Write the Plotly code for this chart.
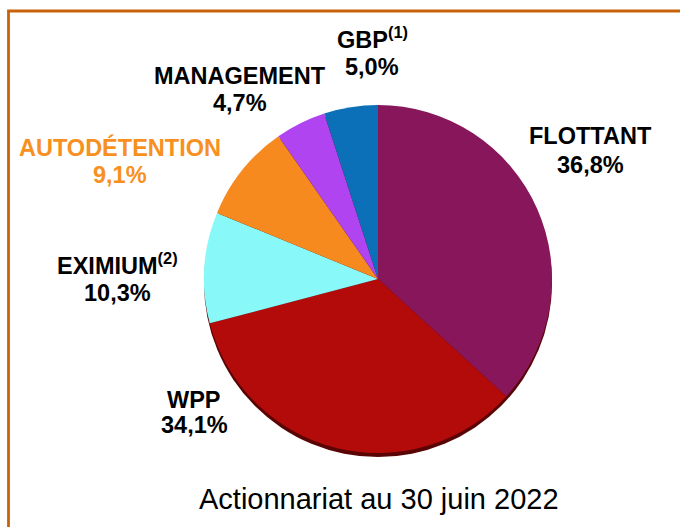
import plotly.graph_objects as go

labels = ["FLOTTANT", "WPP", "EXIMIUM<sup>(2)</sup>", "AUTODÉTENTION", "MANAGEMENT", "GBP<sup>(1)</sup>"]
values = [36.8, 34.1, 10.3, 9.1, 4.7, 5.0]
value_text = ["36,8%", "34,1%", "10,3%", "9,1%", "4,7%", "5,0%"]
colors = ["#88165A", "#B30A0A", "#88F8F8", "#F68A1F", "#B044F0", "#0C70B8"]
label_colors = ["#000000", "#000000", "#000000", "#F7901E", "#000000", "#000000"]
title_text = "Actionnariat au 30 juin 2022"

W, H = 680, 527
cx, cy, r = 378, 279, 174
FONT = "Liberation Sans, Arial, sans-serif"

def dom(cx, cy, r):
    return dict(x=[(cx - r) / W, (cx + r) / W], y=[(H - cy - r) / H, (H - cy + r) / H])

fig = go.Figure()
# shadow rim
fig.add_trace(go.Pie(values=[1], marker=dict(colors=["#5A0505"], line=dict(width=0)), textinfo="none",
                     hoverinfo="skip", showlegend=False, sort=False,
                     domain=dom(cx, cy + 4, r)))
fig.add_trace(go.Pie(labels=labels, values=values, marker=dict(colors=colors, line=dict(width=0)),
                     sort=False, direction="clockwise", rotation=0, textinfo="none",
                     showlegend=False, domain=dom(cx, cy, r)))

# (x, y of label line centre, y of value line centre)
label_pos = [(590, 136, 165), (194, 400, 425), (117, 264, 293), (120, 147, 175), (240, 76, 103), (372, 38, 67)]
annotations = []
for lab, vt, col, (x, y1, y2) in zip(labels, value_text, label_colors, label_pos):
    annotations.append(dict(
        x=x / W, y=1 - y1 / H, xref="paper", yref="paper", showarrow=False,
        xanchor="center", yanchor="middle",
        text=f"<b>{lab}</b>", align="center",
        font=dict(family=FONT, size=23.5, color=col)))
    annotations.append(dict(
        x=x / W, y=1 - y2 / H, xref="paper", yref="paper", showarrow=False,
        xanchor="center", yanchor="middle",
        text=f"<b>{vt}</b>", align="center",
        font=dict(family=FONT, size=23.5, color=col)))
annotations.append(dict(x=379 / W, y=1 - 499 / H, xref="paper", yref="paper", showarrow=False,
                        xanchor="center", yanchor="middle",
                        text=title_text,
                        font=dict(family=FONT, size=29, color="#000000")))

fig.update_layout(
    width=W, height=H, margin=dict(l=0, r=0, t=0, b=0),
    paper_bgcolor="white", plot_bgcolor="white",
    annotations=annotations,
    shapes=[dict(type="rect", xref="paper", yref="paper",
                 x0=8.5 / W, x1=1.02, y0=-0.02, y1=1 - 11 / H,
                 line=dict(color="#C8620A", width=2.8))],
)
fig.write_html("out.html", config={"displayModeBar": False})

with open("out.html", "r", encoding="utf-8") as f:
    html = f.read()
html = html.replace("<head>", "<head><style>html,body{margin:0;padding:0;overflow:hidden;}</style>", 1)
with open("out.html", "w", encoding="utf-8") as f:
    f.write(html)
